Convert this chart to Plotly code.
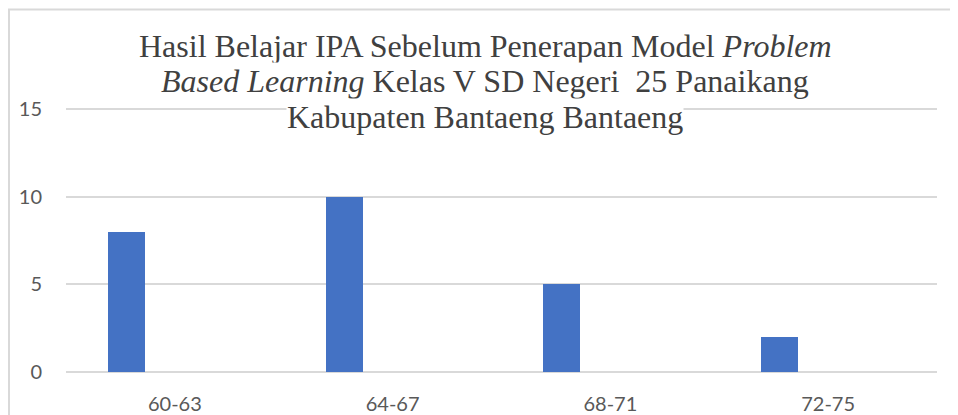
import plotly.graph_objects as go

categories = ["60-63", "64-67", "68-71", "72-75"]
values = [8, 10, 5, 2]
y_ticks = [0, 5, 10, 15]
title_lines = [
    "Hasil Belajar IPA Sebelum Penerapan Model <i>Problem</i>",
    "<i>Based Learning</i> Kelas V SD Negeri  25 Panaikang",
    "Kabupaten Bantaeng Bantaeng",
]

# page body has an 8px margin; work in window pixels and shift
OFF = 8
Y_TOP = 15.4
W, H = 958 - OFF, 415 - OFF
px_per_unit = (371.7 - 109.3) / 15
L = 66 - OFF
R = W - (937 - OFF)
T = 109.3 - OFF - (Y_TOP - 15) * px_per_unit
B = H - (371.7 - OFF)
ph = H - T - B
pw = W - L - R

def xpaper(xwin):
    return (xwin - OFF - L) / pw

def ypaper(ywin):
    return (H - B - (ywin - OFF)) / ph

fig = go.Figure()
fig.add_trace(go.Bar(
    x=categories, y=values,
    width=0.17, offset=-0.308,
    marker=dict(color="#4472C4", line=dict(width=0)),
    hoverinfo="x+y",
))

title_centers = [46, 81.5, 117]
for txt, yc in zip(title_lines, title_centers):
    fig.add_annotation(
        text=txt, x=xpaper(485), y=ypaper(yc),
        xref="paper", yref="paper", xanchor="center", yanchor="middle",
        showarrow=False, bgcolor="white", borderpad=0,
        font=dict(family="Liberation Serif", size=32, color="#404040"),
    )

# chart border (top and left edges visible)
fig.add_shape(type="line", xref="paper", yref="paper",
              x0=xpaper(8), x1=xpaper(970),
              y0=ypaper(10), y1=ypaper(10),
              line=dict(color="#d9d9d9", width=2))
fig.add_shape(type="line", xref="paper", yref="paper",
              x0=xpaper(9), x1=xpaper(9),
              y0=ypaper(10), y1=ypaper(430),
              line=dict(color="#d9d9d9", width=2))

fig.update_layout(
    width=W, height=H,
    margin=dict(l=L, r=R, t=T, b=B, autoexpand=False),
    paper_bgcolor="white", plot_bgcolor="white",
    showlegend=False,
    bargap=0,
    font=dict(family="Lato", size=20, color="#595959"),
)
fig.update_xaxes(
    type="category", range=[-0.5, 3.5],
    showgrid=False, showline=False, zeroline=False,
    ticks="outside", ticklen=14, tickcolor="rgba(0,0,0,0)",
    tickfont=dict(family="Lato", size=20, color="#595959"),
)
fig.update_yaxes(
    range=[0, Y_TOP], tickvals=y_ticks,
    showgrid=True, gridcolor="#d9d9d9", gridwidth=1.5,
    zeroline=True, zerolinecolor="#d9d9d9", zerolinewidth=1.5,
    showline=False,
    ticks="outside", ticklen=19, tickcolor="rgba(0,0,0,0)",
    tickfont=dict(family="Lato", size=20, color="#595959"),
)

fig.write_html("out.html")
